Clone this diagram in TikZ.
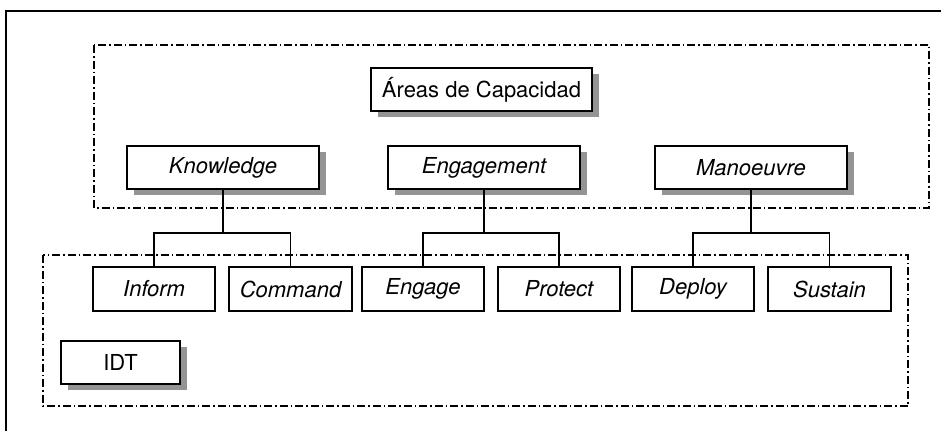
\documentclass[tikz,border=0pt]{standalone}
\usepackage{fontspec}
\setmainfont{TeX Gyre Heros}
\usetikzlibrary{shadows}
\begin{document}
\begin{tikzpicture}[x=1pt,y=-1pt,
  box/.style={draw=black, line width=1.3pt, fill=white, inner sep=0pt,
    font=\fontsize{22}{25}\selectfont},
  shbox/.style={box, drop shadow={shadow xshift=7pt, shadow yshift=-6pt,
    fill=black!42, opacity=1}},
  wide/.style={minimum width=192pt, minimum height=43pt},
  leaf/.style={minimum width=122pt, minimum height=44pt},
  group/.style={draw=black, line width=1.2pt,
    dash pattern=on 8pt off 3pt on 1.5pt off 3pt},
  link/.style={draw=black, line width=1.3pt}]
\useasboundingbox (0,0) rectangle (941,431);

% frame: top and left edges only
\draw[line width=2.8pt] (6,431) -- (6,11) -- (941,11);

% groupings
\draw[group] (94,45) rectangle (929,208);
\draw[group] (43,255) rectangle (908,406);

% top level
\node[shbox, minimum width=221pt, minimum height=43pt] (areas) at (481.5,89.5) {Áreas de Capacidad};
\node[shbox, wide] (know) at (223,167.5) {\itshape Knowledge};
\node[shbox, wide] (enga) at (484,167.5) {\itshape Engagement};
\node[shbox, wide] (mano) at (751,167.5) {\itshape Manoeuvre};

% capabilities
\node[box, leaf] (inform) at (154,289) {\itshape Inform};
\node[box, leaf, minimum width=123pt] (command) at (290.5,289) {\itshape Command};
\node[box, leaf] (engage) at (423,289) {\itshape Engage};
\node[box, leaf] (protect) at (559,289) {\itshape Protect};
\node[box, leaf] (deploy) at (693,289) {\itshape Deploy};
\node[box, leaf, minimum width=123pt] (sustain) at (829.5,289) {\itshape Sustain};

\node[shbox, minimum width=119pt, minimum height=43pt] (idt) at (120.5,362.5) {IDT};

% tree connectors
\coordinate (kb) at (223,233);
\coordinate (eb) at (484,233);
\coordinate (mb) at (751,233);
\draw[link] (know.south) -- (kb);
\draw[link] (inform.north) |- (kb) -| (command.north);
\draw[link] (enga.south) -- (eb);
\draw[link] (engage.north) |- (eb) -| (protect.north);
\draw[link] (mano.south) -- (mb);
\draw[link] (deploy.north) |- (mb) -| (sustain.north);
\end{tikzpicture}
\end{document}
